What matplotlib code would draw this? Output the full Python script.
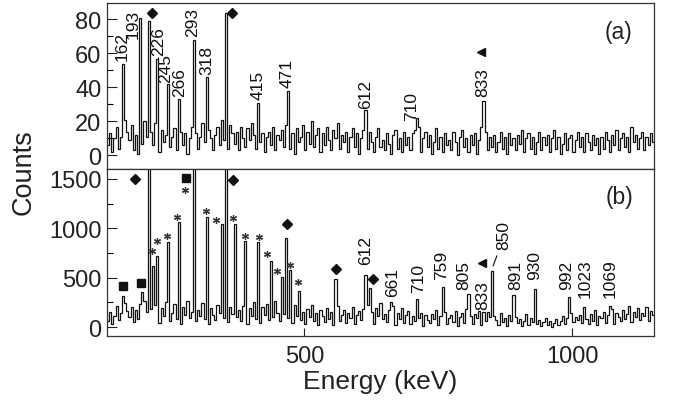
import numpy as np
import matplotlib.pyplot as plt

plt.rcParams['font.family'] = ['Liberation Sans', 'DejaVu Sans']

# Canales de 4 keV entre 132 y 1152 keV
e_min, e_max, bin_w = 132, 1152, 4
edges = np.arange(e_min, e_max + bin_w, bin_w)

# Fondo del espectro (a), cuentas por canal
counts_a = [
    6, 13, 2, 10, 17, 4, 11, 8, 21, 14,
    9, 18, 3, 12, 1, 16, 7, 20, 11, 4,
    14, 6, 19, 10, 2, 15, 8, 12, 18, 5,
    11, 16, 3, 9, 14, 6, 13, 1, 10, 17,
    7, 13, 4, 11, 19, 8, 2, 15, 10, 3,
    12, 17, 6, 21, 9, 15, 4, 18, 13, 7,
    14, 3, 17, 10, 5, 16, 9, 19, 12, 4,
    15, 8, 13, 2, 11, 14, 6, 17, 3, 12,
    9, 15, 5, 18, 12, 4, 13, 1, 16, 8,
    11, 18, 3, 14, 7, 20, 5, 12, 16, 2,
    13, 6, 17, 9, 3, 15, 10, 19, 4, 12,
    8, 14, 2, 11, 16, 5, 13, 1, 10, 15,
    12, 4, 14, 8, 2, 11, 16, 5, 9, 3,
    13, 7, 1, 12, 15, 4, 10, 2, 14, 6,
    11, 3, 13, 15, 7, 17, 2, 10, 14, 5,
    12, 1, 8, 16, 4, 11, 2, 13, 6, 9,
    3, 14, 8, 0, 11, 15, 5, 10, 2, 12,
    6, 13, 1, 9, 17, 7, 14, 3, 11, 5,
    12, 2, 8, 14, 4, 11, 1, 13, 6, 10,
    3, 12, 7, 15, 2, 10, 13, 4, 11, 1,
    8, 14, 3, 11, 6, 12, 2, 10, 15, 4,
    11, 1, 7, 13, 3, 10, 12, 2, 9, 14,
    5, 11, 2, 13, 8, 3, 12, 6, 10, 1,
    11, 4, 14, 9, 2, 12, 6, 15, 3, 10,
    13, 5, 11, 2, 17, 8, 12, 4, 10, 14,
    3, 11, 6, 13, 8,
]

# Fondo del espectro (b)
counts_b = [
    60, 150, 30, 110, 210, 70, 140, 90, 240, 160,
    100, 200, 50, 170, 80, 230, 120, 260, 150, 90,
    180, 70, 220, 130, 40, 190, 110, 250, 160, 60,
    140, 230, 80, 170, 30, 200, 120, 260, 90, 150,
    210, 60, 170, 110, 240, 80, 150, 30, 190, 120,
    70, 220, 140, 260, 90, 180, 50, 200, 130, 240,
    100, 170, 60, 210, 140, 30, 190, 110, 250, 80,
    160, 40, 200, 120, 230, 70, 180, 100, 260, 140,
    60, 210, 130, 280, 90, 170, 40, 220, 110, 190,
    70, 150, 30, 180, 100, 220, 60, 140, 20, 170,
    110, 50, 190, 80, 150, 20, 130, 210, 60, 120,
    170, 40, 140, 90, 200, 30, 120, 160, 70, 180,
    100, 220, 60, 150, 30, 190, 110, 240, 80, 130,
    50, 170, 100, 210, 20, 140, 80, 190, 40, 120,
    160, 30, 110, 60, 180, 90, 140, 10, 120, 70,
    40, 130, 80, 170, 20, 110, 60, 150, 30, 90,
    120, 50, 160, 10, 100, 140, 40, 180, 70, 110,
    30, 130, 90, 160, 20, 120, 60, 150, 100, 40,
    110, 70, 20, 140, 50, 90, 10, 120, 60, 30,
    100, 40, 80, 10, 60, 130, 20, 90, 50, 110,
    30, 70, 10, 50, 90, 20, 60, 0, 40, 80,
    20, 60, 110, 30, 90, 10, 140, 50, 100, 70,
    120, 40, 150, 80, 30, 130, 60, 170, 20, 110,
    90, 150, 40, 120, 70, 180, 30, 140, 100, 60,
    170, 80, 130, 210, 50, 150, 100, 190, 70, 140,
    110, 200, 60, 160, 120,
]

# Picos con etiqueta (energia en keV, cuentas en el maximo)
lines_a_energy = [162, 193, 226, 245, 266, 293, 318, 415, 471, 612, 710, 833]
lines_a_counts = [54, 81, 57, 42, 33, 68, 46, 31, 38, 27, 22, 32]
lines_b_energy = [612, 661, 710, 759, 805, 833, 850, 891, 930, 992, 1023, 1069]
lines_b_counts = [527, 250, 284, 402, 335, 150, 571, 325, 385, 308, 200, 216]

# Picos sin numero (marcados con simbolos)
other_a_energy = [210, 352]
other_a_counts = [79, 84]
other_b_energy = [162, 198, 210, 217, 227, 246, 266, 293, 319, 344, 352, 370,
                  391, 415, 437, 457, 464, 474, 490, 559, 623]
other_b_counts = [318, 352, 2500, 620, 723, 859, 1062, 2500, 1112, 1045, 2500, 1045,
                  875, 859, 673, 510, 903, 578, 368, 487, 395]

# Simbolos
diam_a_e, diam_a_c = [215, 366], [84, 84]
tri_a_e, tri_a_c = [830], [61]
diam_b_e, diam_b_c = [184, 367, 467, 559, 628], [1501, 1491, 1045, 588, 487]
sq_b_e, sq_b_c = [161, 195, 279], [413, 446, 1511]
tri_b_e, tri_b_c = [831], [649]
ast_b_e = [215, 226, 243, 263, 277, 316, 336, 367, 389, 415, 431, 449, 473, 489]
ast_b_c = [768, 875, 926, 1119, 1383, 1170, 1088, 1100, 926, 916, 740, 571, 632, 453]

# Donde va cada numero (x, base del texto)
label_pos_a = {162: (160, 56), 193: (181, 69), 226: (229, 59), 245: (241, 43),
               266: (268, 35), 293: (291, 70), 318: (319, 48), 415: (414, 33),
               471: (467, 40), 612: (614, 28), 710: (700, 21), 833: (833, 35)}
label_pos_b = {612: (614, 640), 661: (664, 318), 710: (713, 352), 759: (756, 487),
               805: (798, 390), 833: (832, 185), 850: (871, 791), 891: (894, 385),
               930: (930, 487), 992: (990, 385), 1023: (1024, 304), 1069: (1071, 304)}


def Meter_Picos(counts, energies, heights):
    c = np.array(counts, dtype=float)
    for e, h in zip(energies, heights):
        i = np.searchsorted(edges, e, side='right') - 1
        c[i] = max(c[i], h)
    return c


spec_a = Meter_Picos(Meter_Picos(counts_a, lines_a_energy, lines_a_counts), other_a_energy, other_a_counts)
spec_b = Meter_Picos(Meter_Picos(counts_b, lines_b_energy, lines_b_counts), other_b_energy, other_b_counts)

fig = plt.figure(figsize=(6.73, 4.02), dpi=100)
L, R = 107 / 673, 654 / 673
ax_a = fig.add_axes([L, 1 - 170 / 402, R - L, (170 - 3.5) / 402])
ax_b = fig.add_axes([L, 1 - 336.5 / 402, R - L, (336.5 - 170) / 402], sharex=ax_a)

for ax, spec in ((ax_a, spec_a), (ax_b, spec_b)):
    ax.stairs(spec, edges, color='#111111', lw=0.9, baseline=None)
    ax.tick_params(axis='y', which='major', direction='in', length=7, width=0.8,
                   labelsize=17, pad=4, colors='#222222')
    ax.tick_params(axis='y', which='minor', direction='in', length=4, width=0.8)
    ax.tick_params(axis='x', direction='in', length=6, width=0.8, labelsize=17,
                   pad=7, colors='#222222')
    for s in ax.spines.values():
        s.set_linewidth(0.9)
        s.set_color('#333333')

ax_a.set_xlim(132, 1152)
ax_a.set_ylim(-8, 90)
ax_a.set_yticks([0, 20, 40, 60, 80])
ax_a.set_yticks([10, 30, 50, 70], minor=True)
ax_a.tick_params(axis='x', length=0, labelbottom=False)

ax_b.set_ylim(-85, 1600)
ax_b.set_yticks([0, 500, 1000, 1500])
ax_b.set_yticks([250, 750, 1250], minor=True)
ax_b.set_xticks([500, 1000])

txt = dict(rotation=90, ha='center', va='bottom', fontsize=12.5, color='#111111')
for e in lines_a_energy:
    x, y = label_pos_a[e]
    ax_a.text(x, y, str(e), **txt)
for e in lines_b_energy:
    x, y = label_pos_b[e]
    ax_b.text(x, y, str(e), **txt)
ax_b.plot([852, 859], [620, 720], color='#111111', lw=0.8)   # raya del 850

mk = dict(ls='none', color='#111111')
ax_a.plot(diam_a_e, diam_a_c, marker='D', ms=5, **mk)
ax_a.plot(tri_a_e, tri_a_c, marker='<', ms=5.5, **mk)
ax_b.plot(diam_b_e, diam_b_c, marker='D', ms=5, **mk)
ax_b.plot(sq_b_e, sq_b_c, marker='s', ms=5.5, **mk)
ax_b.plot(tri_b_e, tri_b_c, marker='<', ms=5.5, **mk)
ax_b.plot(ast_b_e, ast_b_c, marker=(6, 2, 0), ms=5, mew=0.9, ls='none', color='#333333')

ax_a.text(1086, 73, '(a)', ha='center', va='center', fontsize=16.5, color='#222222')
ax_b.text(1088, 1325, '(b)', ha='center', va='center', fontsize=16.5, color='#222222')

fig.text(24 / 673, 1 - 172 / 402, 'Counts', rotation=90, ha='center', va='center',
         fontsize=19.5, color='#222222')
fig.text(380 / 673, 1 - 382 / 402, 'Energy (keV)', ha='center', va='center',
         fontsize=19, color='#222222')

fig.savefig('out.png', dpi=100)
